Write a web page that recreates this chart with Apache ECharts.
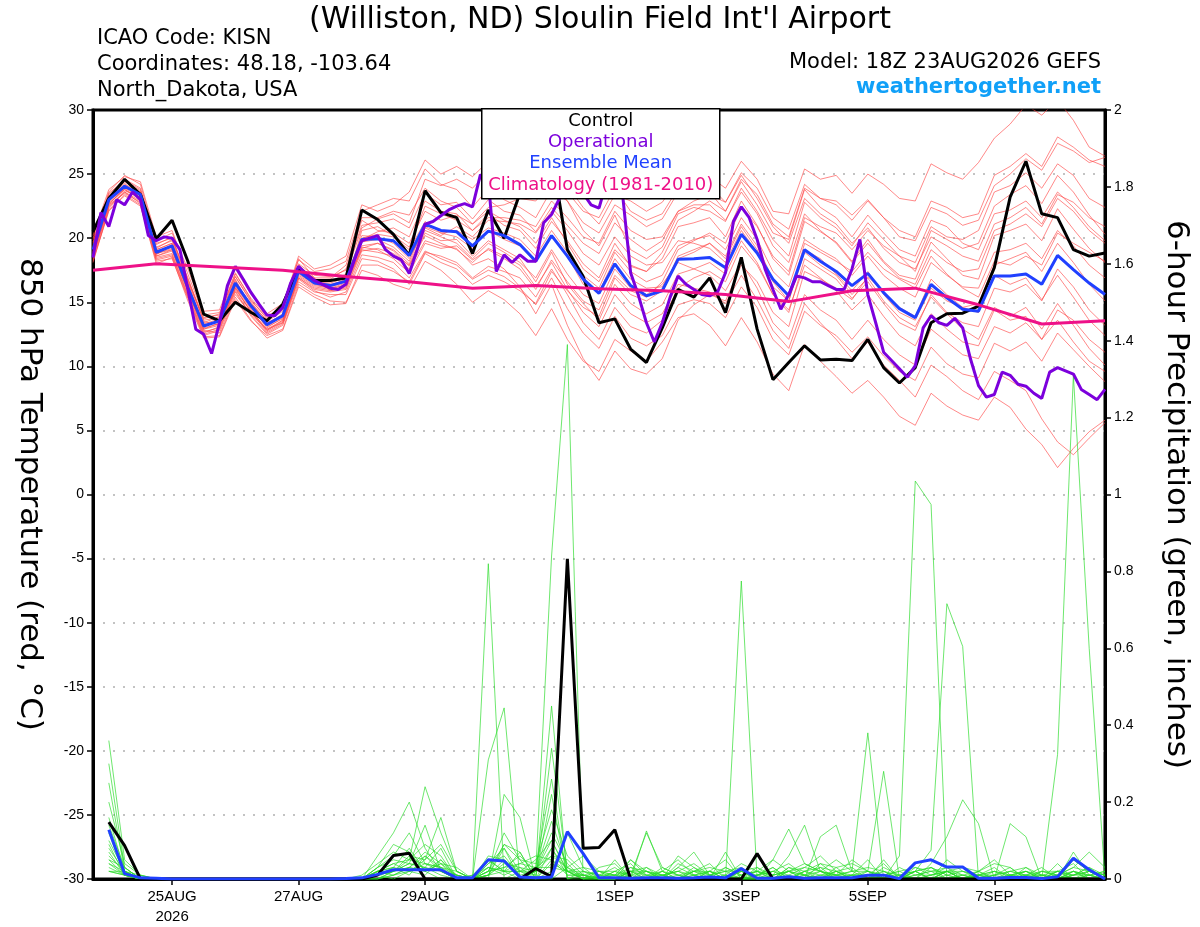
<!DOCTYPE html>
<html>
<head>
<meta charset="utf-8">
<title>KISN GEFS 850 hPa temperature / precipitation</title>
<script src="https://cdn.jsdelivr.net/npm/echarts@6/dist/echarts.min.js"></script>
<style>
  html, body { margin: 0; padding: 0; background: #fff; }
  #chart { width: 1200px; height: 927px; }
</style>
</head>
<body>
<div id="chart"></div>
<script>
'use strict';

// x axis: hours after 18Z 23AUG2026
var tickHours = [30, 78, 126, 198, 246, 294, 342];
var tickLabels = ['25AUG\n2026', '27AUG', '29AUG', '1SEP', '3SEP', '5SEP', '7SEP'];

// 850 hPa temperature, 6-hourly from hour 0
var control = [20.5, 23.1, 24.6, 23.4, 19.95, 21.4, 18.2, 14.07, 13.55, 15.0, 14.2, 13.55, 14.85,
  17.6, 16.7, 16.7, 16.9, 22.2, 21.45, 20.3, 18.65, 23.7, 22.0, 21.6, 18.8, 22.2,
  20.0, 23.5, 25.5, 26.5, 19.1, 17.0, 13.4, 13.7, 11.35, 10.3, 13.0, 16.0, 15.4,
  16.9, 14.2, 18.5, 12.9, 8.96, 10.3, 11.6, 10.5, 10.55, 10.45, 12.1, 9.9, 8.7,
  9.9, 13.4, 14.1, 14.15, 14.7, 17.7, 23.2, 26.0, 21.9, 21.6, 19.1, 18.6, 18.85];

var ensMean = [19.1, 23.0, 24.05, 23.4, 18.9, 19.4, 16.15, 13.15, 13.55, 16.5, 14.7, 13.25, 13.95,
  17.4, 16.5, 16.3, 16.65, 19.9, 19.95, 19.8, 18.65, 21.1, 20.6, 20.5, 19.4, 20.55,
  20.2, 19.5, 18.2, 20.2, 18.6, 16.8, 15.7, 18.0, 16.3, 15.5, 15.9, 18.35, 18.4,
  18.5, 17.7, 20.3, 18.85, 16.8, 15.5, 19.1, 18.2, 17.4, 16.3, 17.25, 15.75, 14.5,
  13.8, 16.4, 15.35, 14.45, 14.3, 17.05, 17.05, 17.2, 16.4, 18.65, 17.55, 16.5, 15.6];

// operational run, 3-hourly from hour 0
var operational = [18.5, 22.0, 20.9, 23.0, 22.6, 23.6, 23.0, 20.2, 19.8, 20.1, 20.0, 19.1, 16.0,
  12.9, 12.5, 11.0, 13.4, 16.3, 17.8, 16.8, 15.75, 14.85, 14.0, 13.95, 14.6, 16.5,
  17.8, 17.2, 16.7, 16.4, 16.1, 16.0, 16.4, 18.2, 19.8, 20.0, 20.2, 19.1, 18.6,
  18.3, 17.25, 19.1, 21.1, 21.3, 21.75, 22.2, 22.5, 22.7, 22.45, 24.95, 24.5, 17.4,
  18.7, 18.1, 18.7, 18.2, 18.2, 21.2, 21.85, 23.1, 24.0, 24.5, 23.5, 22.6, 22.35,
  24.5, 25.0, 23.3, 17.3, 15.5, 13.4, 11.9, 13.4, 15.4, 17.05, 16.4, 16.0, 15.6,
  15.5, 15.8, 17.3, 21.3, 22.45, 21.6, 19.9, 17.6, 16.0, 14.45, 15.6, 17.05, 16.9,
  16.6, 16.6, 16.3, 16.0, 16.0, 17.6, 19.9, 15.6, 13.4, 11.1, 10.45, 9.8, 9.15,
  10.05, 13.0, 13.95, 13.4, 13.2, 13.75, 13.0, 10.55, 8.5, 7.6, 7.8, 9.55, 9.3,
  8.6, 8.45, 7.9, 7.5, 9.55, 9.9, 9.65, 9.4, 8.2, 7.8, 7.4, 8.2];

// climatology, daily from hour 0
var climatology = [17.5, 18.0, 17.75, 17.5, 17.0, 16.6, 16.1, 16.3, 16.05, 15.9, 15.6, 15.05,
  15.9, 16.1, 14.8, 13.3, 13.55];

// ensemble members, 6-hourly from hour 0
var tMem1 = [19.5, 23.4, 24.6, 23.9, 19.5, 20.1, 16.8, 13.8, 14.0, 17.2, 15.3, 13.9, 14.6,
  18.0, 17.1, 17.0, 17.5, 21.0, 21.2, 21.5, 20.8, 23.5, 22.6, 22.8, 21.5, 23.0,
  22.1, 21.8, 20.5, 22.4, 21.0, 19.6, 18.8, 21.2, 19.9, 19.0, 19.8, 22.1, 22.9,
  23.4, 22.8, 25.1, 23.9, 21.6, 20.7, 24.2, 23.1, 22.9, 21.8, 23.0, 21.6, 20.1,
  19.8, 22.4, 21.9, 21.0, 21.4, 24.1, 25.0, 26.2, 25.3, 27.4, 26.8, 25.9, 26.3];
var tMem2 = [18.6, 22.5, 23.6, 22.9, 18.4, 18.7, 15.5, 12.5, 12.9, 15.9, 14.0, 12.6, 13.3,
  16.8, 15.9, 15.4, 15.8, 18.7, 18.5, 18.1, 16.9, 19.0, 18.4, 17.9, 16.8, 17.5,
  17.0, 16.1, 14.8, 16.9, 14.5, 12.6, 11.4, 13.9, 12.2, 11.6, 12.4, 14.8, 15.2,
  14.9, 13.8, 16.2, 14.6, 12.1, 10.9, 14.3, 13.2, 12.4, 11.1, 12.3, 10.8, 9.6,
  8.9, 11.5, 10.2, 9.4, 9.1, 11.8, 11.2, 11.9, 10.4, 12.6, 11.3, 10.0, 8.8];
var tMem3 = [19.9, 23.2, 24.3, 23.0, 19.2, 19.9, 16.9, 13.5, 13.2, 16.1, 14.9, 13.6, 14.5,
  18.4, 16.9, 15.9, 16.2, 20.6, 20.9, 20.2, 19.3, 22.5, 21.9, 21.4, 20.6, 21.9,
  21.0, 20.6, 19.2, 21.3, 19.8, 18.0, 16.9, 19.6, 17.8, 17.4, 18.4, 20.9, 21.2,
  21.6, 20.1, 22.9, 21.0, 18.4, 17.1, 21.3, 20.5, 19.7, 18.2, 19.9, 18.2, 17.1,
  16.8, 19.7, 18.4, 17.1, 16.8, 20.2, 20.6, 21.1, 19.8, 22.3, 20.7, 19.2, 18.1];
var tMem4 = [18.9, 22.8, 23.9, 23.5, 19.1, 19.6, 16.2, 13.4, 13.9, 16.8, 14.6, 13.0, 13.8,
  17.9, 16.8, 16.6, 17.2, 20.8, 21.5, 21.9, 21.2, 24.6, 24.1, 24.6, 23.9, 25.2,
  24.6, 24.9, 23.8, 24.6, 22.9, 21.2, 20.4, 22.6, 21.8, 20.9, 21.5, 23.6, 24.1,
  24.8, 23.9, 26.0, 24.6, 22.1, 21.9, 25.4, 24.6, 24.9, 23.5, 25.0, 24.2, 23.1,
  22.9, 25.8, 25.1, 24.6, 25.9, 27.8, 28.9, 30.4, 29.6, 30.8, 29.2, 27.1, 26.4];
var tMem5 = [18.2, 22.1, 23.4, 22.6, 18.0, 18.5, 15.1, 12.2, 12.3, 15.2, 13.5, 12.4, 12.9,
  16.4, 15.6, 15.1, 15.0, 17.5, 17.1, 16.4, 16.0, 18.2, 17.5, 16.4, 15.0, 15.9,
  15.2, 14.1, 12.4, 14.5, 12.1, 10.4, 9.6, 12.1, 11.2, 10.4, 11.9, 13.8, 14.1,
  13.2, 11.6, 13.8, 11.9, 9.4, 8.1, 11.7, 10.4, 9.2, 7.9, 8.9, 7.6, 6.1,
  5.4, 7.9, 6.9, 6.2, 5.8, 7.6, 6.8, 5.1, 3.9, 2.1, 3.6, 4.9, 5.8];
var tMem6 = [19.6, 23.6, 24.9, 24.2, 19.8, 20.4, 17.6, 14.3, 14.4, 17.6, 15.6, 14.1, 14.9,
  18.3, 17.4, 17.6, 18.2, 22.1, 22.6, 23.1, 22.9, 25.4, 24.2, 23.8, 22.4, 23.9,
  23.0, 22.4, 21.6, 23.8, 22.9, 20.6, 19.4, 21.8, 19.1, 18.4, 19.3, 21.9, 22.4,
  22.1, 21.3, 23.9, 22.1, 19.9, 18.6, 22.8, 21.6, 20.8, 19.4, 21.2, 19.9, 18.6,
  17.4, 20.6, 19.9, 19.2, 19.6, 22.5, 23.4, 24.1, 22.7, 24.9, 23.6, 21.8, 20.3];
var tMem7 = [18.8, 22.7, 23.8, 23.1, 18.6, 19.0, 15.8, 12.9, 13.4, 16.2, 14.2, 12.8, 13.5,
  17.0, 16.2, 16.0, 16.4, 19.4, 19.6, 19.0, 17.8, 20.4, 19.8, 19.9, 18.6, 19.8,
  19.1, 18.4, 16.6, 18.9, 16.4, 14.9, 13.6, 16.4, 14.9, 14.1, 14.8, 17.2, 17.6,
  18.1, 17.2, 19.8, 18.1, 15.6, 14.2, 18.4, 17.6, 16.8, 15.3, 16.6, 14.9, 13.4,
  12.8, 15.6, 14.2, 13.4, 13.1, 16.1, 15.8, 16.4, 15.1, 17.6, 16.2, 14.4, 13.2];
var tMem8 = [19.3, 23.1, 24.2, 23.6, 19.0, 19.3, 16.4, 13.1, 13.6, 16.6, 14.8, 13.3, 14.1,
  17.6, 16.6, 16.5, 16.9, 20.2, 20.1, 19.6, 18.4, 20.8, 20.2, 20.9, 20.1, 21.4,
  21.3, 21.1, 20.4, 22.1, 20.6, 18.8, 17.9, 20.1, 18.6, 17.9, 18.1, 19.8, 19.6,
  19.2, 18.1, 20.6, 18.9, 16.2, 15.1, 19.6, 18.9, 18.2, 17.4, 18.9, 17.6, 16.8,
  16.1, 18.6, 17.2, 16.1, 15.4, 18.2, 17.9, 18.6, 17.9, 20.4, 19.6, 18.9, 18.2];
var tMem9 = [18.5, 22.4, 23.7, 23.2, 18.8, 19.2, 16.0, 12.8, 12.6, 15.6, 14.1, 12.9, 13.6,
  17.2, 16.4, 16.1, 16.5, 19.1, 18.9, 18.6, 17.6, 19.8, 19.4, 19.2, 17.9, 18.4,
  17.6, 16.2, 14.1, 16.4, 13.2, 10.6, 8.9, 11.2, 9.8, 9.4, 10.6, 13.6, 14.8,
  15.6, 15.1, 17.9, 16.6, 14.2, 13.1, 17.4, 16.8, 16.1, 15.2, 17.0, 15.8, 14.6,
  13.9, 16.8, 15.6, 14.6, 14.2, 17.1, 16.4, 16.9, 15.2, 17.1, 15.4, 13.6, 12.4];
var tMem10 = [20.2, 23.8, 24.8, 24.4, 20.1, 20.6, 17.2, 14.0, 14.2, 17.0, 15.1, 13.8, 14.7,
  18.6, 17.6, 17.9, 18.6, 22.6, 22.1, 22.6, 23.6, 26.1, 25.0, 25.6, 24.8, 26.0,
  25.4, 25.9, 26.4, 25.8, 24.1, 22.4, 21.1, 23.4, 22.9, 22.1, 22.8, 24.6, 24.0,
  23.6, 22.1, 24.4, 22.6, 20.4, 19.9, 23.8, 22.4, 21.6, 20.1, 21.8, 20.4, 19.1,
  18.6, 21.4, 20.9, 19.6, 19.1, 21.9, 22.2, 22.9, 21.6, 23.6, 22.4, 20.9, 19.8];
var tMem11 = [18.4, 22.9, 24.1, 23.3, 18.7, 19.5, 16.3, 13.0, 13.3, 16.4, 14.5, 13.1, 13.7,
  17.3, 16.5, 16.2, 16.6, 19.7, 19.9, 19.3, 18.2, 20.9, 20.4, 20.1, 19.2, 20.6,
  19.9, 19.4, 18.1, 20.2, 18.6, 16.4, 15.8, 18.4, 16.8, 16.1, 16.2, 18.4, 18.9,
  19.6, 18.6, 21.1, 19.4, 16.8, 15.6, 19.1, 18.4, 17.2, 15.9, 17.4, 15.6, 14.2,
  13.6, 16.1, 15.1, 14.6, 14.9, 17.9, 18.4, 18.9, 17.4, 19.6, 18.1, 16.4, 15.1];
var tMem12 = [19.0, 22.6, 23.5, 22.8, 18.5, 18.8, 15.6, 12.6, 13.1, 16.0, 14.3, 12.9, 13.4,
  16.9, 16.0, 15.8, 16.0, 19.0, 19.2, 18.8, 17.9, 20.2, 19.6, 19.1, 18.1, 19.2,
  18.6, 17.9, 16.2, 18.1, 16.0, 14.2, 13.1, 15.6, 14.1, 13.4, 14.1, 16.4, 16.1,
  15.8, 14.9, 17.1, 15.2, 12.8, 11.4, 14.9, 13.4, 12.1, 10.6, 11.9, 10.1, 8.9,
  7.6, 10.1, 9.2, 8.1, 7.4, 9.6, 8.9, 8.1, 5.9, 4.1, 3.1, 4.4, 5.6];
var tMem13 = [19.7, 23.3, 24.4, 23.7, 19.3, 19.8, 16.6, 13.6, 13.8, 17.0, 15.0, 13.5, 14.3,
  17.7, 16.7, 16.8, 17.6, 21.4, 20.6, 20.4, 19.6, 22.1, 21.4, 21.8, 21.1, 22.4,
  22.6, 23.1, 22.9, 24.4, 23.6, 22.1, 21.6, 23.9, 22.1, 21.4, 21.9, 23.9, 24.6,
  24.1, 22.8, 24.9, 23.1, 20.9, 19.6, 23.1, 21.9, 21.1, 19.6, 20.8, 19.2, 18.1,
  17.6, 20.1, 19.4, 18.6, 18.2, 21.1, 21.6, 22.4, 21.1, 23.4, 22.8, 21.6, 20.9];
var tMem14 = [18.7, 22.6, 23.9, 23.2, 18.9, 19.3, 15.9, 12.9, 13.2, 16.3, 14.4, 12.8, 13.6,
  17.1, 16.3, 16.1, 16.3, 19.3, 19.1, 18.4, 17.3, 19.6, 19.2, 19.4, 18.3, 19.1,
  18.4, 17.6, 16.0, 18.3, 16.6, 15.1, 14.4, 17.1, 15.9, 15.4, 16.6, 19.1, 19.8,
  20.4, 19.6, 22.4, 20.9, 18.6, 17.4, 21.6, 20.9, 20.4, 19.1, 20.6, 19.4, 18.6,
  18.1, 20.9, 20.1, 19.9, 20.6, 23.6, 24.1, 25.1, 23.9, 25.8, 24.9, 23.1, 22.4];
var tMem15 = [19.4, 23.0, 24.0, 23.4, 18.8, 19.1, 16.0, 13.3, 13.7, 16.5, 14.9, 13.4, 14.0,
  17.5, 16.5, 16.3, 16.8, 20.0, 20.3, 20.1, 19.1, 21.3, 20.4, 20.6, 19.9, 20.8,
  20.4, 19.9, 18.6, 20.6, 18.9, 17.1, 16.1, 18.9, 17.4, 16.6, 17.1, 19.4, 19.9,
  20.2, 19.1, 21.6, 19.9, 17.4, 16.2, 19.9, 19.1, 18.4, 17.1, 18.6, 17.1, 16.1,
  15.4, 18.1, 17.1, 16.2, 16.1, 18.9, 19.1, 19.6, 18.4, 20.6, 19.4, 17.9, 16.9];
var tMem16 = [18.1, 22.3, 23.6, 22.7, 18.3, 18.6, 15.4, 12.4, 12.8, 15.8, 13.9, 12.5, 13.2,
  16.6, 15.8, 15.6, 15.6, 18.4, 18.2, 17.6, 16.4, 18.8, 18.1, 17.6, 16.4, 17.1,
  16.6, 15.9, 14.9, 17.4, 15.9, 14.6, 13.9, 16.9, 15.6, 15.1, 15.9, 18.6, 19.1,
  19.6, 18.4, 20.9, 19.1, 16.6, 15.1, 18.9, 17.9, 17.1, 15.6, 16.9, 15.1, 13.8,
  13.1, 15.4, 14.1, 12.9, 12.1, 14.6, 13.9, 14.6, 12.9, 14.9, 13.2, 11.4, 10.1];
var tMem17 = [20.0, 23.5, 24.5, 23.8, 19.6, 20.0, 16.7, 13.7, 14.1, 17.3, 15.2, 13.7, 14.4,
  17.8, 16.9, 16.9, 17.9, 21.6, 21.6, 22.1, 21.8, 23.9, 22.9, 22.4, 21.1, 22.1,
  21.4, 20.9, 19.6, 21.6, 19.6, 17.6, 16.6, 19.1, 17.9, 17.4, 18.9, 21.4, 22.1,
  22.9, 22.1, 24.6, 23.4, 21.1, 20.1, 23.9, 23.1, 22.6, 21.4, 22.9, 21.6, 20.6,
  20.1, 22.9, 22.4, 21.6, 21.9, 24.9, 25.6, 26.6, 25.6, 27.9, 27.1, 26.1, 25.6];
var tMem18 = [18.3, 22.2, 23.3, 22.5, 18.2, 18.4, 15.3, 12.3, 12.4, 15.4, 13.6, 12.2, 12.8,
  16.2, 15.4, 14.8, 14.9, 17.9, 17.9, 17.4, 16.6, 18.9, 18.6, 18.1, 16.9, 17.8,
  17.4, 16.9, 15.4, 17.6, 15.6, 13.4, 12.1, 14.6, 13.1, 12.6, 13.6, 16.1, 16.9,
  17.4, 16.6, 19.4, 17.9, 15.6, 14.4, 17.9, 16.9, 15.9, 14.4, 15.6, 13.9, 12.4,
  11.6, 14.1, 12.9, 11.9, 11.6, 14.4, 13.6, 13.9, 12.1, 13.6, 11.9, 10.4, 9.6];
var tMem19 = [19.2, 22.9, 24.0, 23.5, 19.1, 19.6, 16.5, 13.2, 13.5, 16.7, 14.7, 13.2, 13.9,
  17.4, 16.6, 16.4, 16.7, 19.9, 20.5, 20.8, 20.1, 22.9, 22.1, 21.9, 20.6, 21.6,
  21.6, 21.4, 20.9, 22.9, 21.6, 20.1, 19.6, 22.1, 20.6, 19.9, 20.1, 22.1, 22.6,
  22.6, 21.4, 23.6, 21.9, 19.4, 18.1, 21.9, 20.6, 19.6, 18.1, 19.6, 18.1, 16.9,
  16.4, 19.1, 18.1, 17.4, 17.6, 20.6, 21.1, 21.9, 20.9, 23.1, 22.1, 20.6, 19.6];
var tMem20 = [18.9, 22.7, 23.8, 23.0, 18.6, 19.1, 15.8, 12.7, 13.0, 16.1, 14.2, 12.7, 13.4,
  16.9, 16.1, 15.9, 16.1, 19.2, 19.6, 19.1, 18.0, 20.6, 20.1, 19.6, 18.4, 19.6,
  18.9, 18.1, 16.9, 19.1, 17.2, 15.6, 14.9, 17.6, 16.1, 15.6, 16.4, 18.1, 17.6,
  17.1, 15.9, 18.1, 16.1, 13.4, 12.1, 15.6, 14.4, 13.6, 12.1, 13.6, 12.1, 10.9,
  10.1, 12.9, 11.9, 10.9, 10.6, 13.1, 12.6, 13.4, 12.1, 14.4, 13.6, 12.1, 11.1];

// 6-hour precipitation (inches), 6-hourly from hour 6
var pControl = [0.148, 0.087, 0, 0, 0, 0, 0, 0, 0, 0, 0, 0, 0, 0, 0, 0,
  0, 0.01, 0.061, 0.067, 0, 0, 0, 0, 0, 0, 0, 0.027, 0.006, 0.833, 0.08, 0.082,
  0.128, 0, 0, 0, 0, 0, 0, 0, 0, 0.066, 0, 0, 0, 0, 0, 0,
  0, 0, 0, 0, 0, 0, 0, 0, 0, 0, 0, 0, 0, 0, 0, 0];
var pMean = [0.128, 0.014, 0.003, 0.002, 0, 0, 0, 0, 0, 0, 0, 0, 0, 0, 0, 0.001,
  0.003, 0.012, 0.024, 0.024, 0.024, 0.024, 0.003, 0.003, 0.05, 0.047, 0.005, 0.003, 0.005, 0.123, 0.066, 0.003,
  0.003, 0.002, 0.003, 0.003, 0.002, 0.003, 0.005, 0.003, 0.027, 0.002, 0.002, 0.006, 0.002, 0.003, 0.003, 0.003,
  0.01, 0.01, 0.001, 0.042, 0.05, 0.031, 0.031, 0.002, 0.002, 0.004, 0.004, 0.001, 0.006, 0.054, 0.024, 0];

var pMem1 = [0.36, 0.05, 0.01, 0, 0, 0, 0, 0, 0, 0, 0, 0, 0, 0, 0, 0,
  0, 0.06, 0.12, 0.20, 0.08, 0.02, 0, 0.01, 0.05, 0.02, 0, 0.02, 0.10, 0.02, 0, 0.01,
  0.03, 0, 0, 0.02, 0.05, 0.01, 0, 0, 0.02, 0, 0, 0.02, 0, 0.01, 0, 0,
  0.02, 0, 0, 0, 0.01, 0.02, 0, 0, 0.01, 0.03, 0, 0, 0.01, 0.05, 0.02, 0];
var pMem2 = [0.30, 0.03, 0, 0, 0, 0, 0, 0, 0, 0, 0, 0, 0, 0, 0, 0,
  0, 0.02, 0.04, 0.05, 0.24, 0.12, 0.02, 0, 0.31, 0.445, 0, 0, 0.02, 0.12, 0.03, 0,
  0, 0.02, 0.03, 0, 0, 0.01, 0.02, 0.05, 0, 0, 0, 0.03, 0.01, 0, 0.02, 0,
  0, 0.05, 0, 0.02, 0.03, 0, 0.01, 0, 0, 0.01, 0.02, 0, 0, 0.02, 0.01, 0];
var pMem3 = [0.25, 0.02, 0, 0, 0, 0, 0, 0, 0, 0, 0, 0, 0, 0, 0, 0,
  0, 0, 0.02, 0.06, 0.05, 0.16, 0.02, 0, 0.82, 0, 0.02, 0, 0, 0.03, 0.01, 0,
  0, 0.05, 0.01, 0, 0, 0.02, 0, 0.01, 0, 0, 0.05, 0.13, 0.04, 0.02, 0, 0,
  0, 0.01, 0, 0, 0, 0.02, 0, 0, 0, 0.01, 0.02, 0, 0, 0.01, 0.03, 0];
var pMem4 = [0.20, 0.04, 0.01, 0, 0, 0, 0, 0, 0, 0, 0, 0, 0, 0, 0, 0,
  0, 0, 0.01, 0.03, 0.07, 0.04, 0, 0, 0.04, 0.08, 0, 0.02, 0.84, 1.39, 0, 0,
  0.01, 0, 0.02, 0.01, 0, 0, 0, 0, 0.01, 0.02, 0, 0, 0.02, 0, 0.01, 0,
  0.01, 0, 0, 0.02, 0, 0, 0, 0.01, 0, 0, 0.03, 0, 0.01, 0, 0, 0];
var pMem5 = [0.16, 0.02, 0, 0, 0, 0, 0, 0, 0, 0, 0, 0, 0, 0, 0, 0,
  0, 0.03, 0.09, 0.07, 0.02, 0, 0, 0, 0, 0.22, 0.16, 0, 0.05, 0.02, 0, 0,
  0, 0.02, 0, 0.01, 0, 0, 0, 0, 0.775, 0, 0, 0.02, 0.01, 0, 0.03, 0,
  0, 0, 0.01, 0, 0, 0.05, 0.02, 0, 0, 0, 0, 0.01, 0, 0.02, 0, 0];
var pMem6 = [0.14, 0.03, 0, 0, 0, 0, 0, 0, 0, 0, 0, 0, 0, 0, 0, 0,
  0, 0, 0.02, 0.05, 0.04, 0.02, 0.01, 0, 0.02, 0.09, 0.07, 0, 0.45, 0, 0.01, 0,
  0, 0.01, 0.12, 0.03, 0.01, 0, 0.02, 0, 0, 0.01, 0, 0, 0.02, 0.04, 0.01, 0,
  0, 0, 0.06, 1.035, 0.974, 0, 0, 0.01, 0, 0, 0.01, 0, 0.02, 0, 0.01, 0];
var pMem7 = [0.12, 0.01, 0, 0, 0, 0, 0, 0, 0, 0, 0, 0, 0, 0, 0, 0,
  0, 0.01, 0, 0.02, 0.03, 0.08, 0, 0, 0.05, 0.02, 0.07, 0, 0.34, 0.02, 0, 0.02,
  0.02, 0, 0, 0, 0.03, 0.07, 0.01, 0, 0, 0, 0, 0, 0, 0.11, 0.14, 0.02,
  0, 0, 0, 0.02, 0.075, 0.716, 0.605, 0, 0, 0.01, 0, 0, 0, 0.01, 0.02, 0];
var pMem8 = [0.10, 0.02, 0, 0, 0, 0, 0, 0, 0, 0, 0, 0, 0, 0, 0, 0,
  0, 0.02, 0.03, 0.01, 0.06, 0.02, 0, 0, 0.01, 0.05, 0, 0.03, 0.26, 0, 0, 0,
  0, 0.03, 0.02, 0, 0, 0.02, 0.01, 0, 0, 0.03, 0, 0, 0.01, 0, 0, 0.01,
  0, 0.01, 0, 0, 0, 0.02, 0, 0.01, 0, 0, 0, 0, 0.324, 1.31, 0.6, 0];
var pMem9 = [0.09, 0.01, 0, 0, 0, 0, 0, 0, 0, 0, 0, 0, 0, 0, 0, 0,
  0, 0.03, 0.05, 0.04, 0.03, 0.01, 0, 0, 0.02, 0.03, 0.06, 0.02, 0.12, 0.04, 0, 0,
  0, 0, 0.125, 0.02, 0, 0.01, 0, 0, 0, 0.01, 0.03, 0, 0, 0.02, 0.05, 0.02,
  0.38, 0, 0, 0, 0.01, 0.03, 0, 0.02, 0, 0.144, 0.11, 0, 0, 0.02, 0, 0];
var pMem10 = [0.08, 0.02, 0, 0, 0, 0, 0, 0, 0, 0, 0, 0, 0, 0, 0, 0,
  0, 0.01, 0.02, 0.03, 0.06, 0.03, 0, 0, 0.01, 0.04, 0.03, 0, 0.08, 0.01, 0.01, 0,
  0, 0.02, 0, 0.03, 0.01, 0, 0.02, 0, 0, 0.02, 0.01, 0.06, 0.14, 0.02, 0.01, 0.05,
  0.02, 0.28, 0, 0, 0, 0.02, 0, 0.01, 0.03, 0, 0, 0.01, 0, 0.07, 0.01, 0];
var pMem11 = [0.07, 0.01, 0, 0, 0, 0, 0, 0, 0, 0, 0, 0, 0, 0, 0, 0,
  0, 0.02, 0.04, 0.02, 0.01, 0.05, 0.01, 0, 0.01, 0.09, 0.05, 0.04, 0.18, 0.06, 0.02, 0,
  0.05, 0, 0, 0.01, 0.02, 0.01, 0, 0.07, 0, 0.01, 0.02, 0.04, 0.01, 0, 0.02, 0.03,
  0, 0.02, 0.01, 0, 0.04, 0.11, 0.206, 0.144, 0, 0.02, 0.01, 0, 0.02, 0, 0.01, 0];
var pMem12 = [0.06, 0.02, 0.01, 0, 0, 0, 0, 0, 0, 0, 0, 0, 0, 0, 0, 0,
  0, 0.03, 0.06, 0.12, 0.04, 0.03, 0.01, 0, 0.06, 0.05, 0.02, 0.02, 0.06, 0.03, 0.06, 0.02,
  0, 0.01, 0.02, 0, 0.04, 0.02, 0.02, 0, 0.02, 0, 0.01, 0.02, 0.04, 0.02, 0, 0.01,
  0.05, 0, 0, 0.03, 0.02, 0, 0.01, 0.02, 0.04, 0.03, 0, 0.02, 0.01, 0.03, 0.07, 0.03];
var pMem13 = [0.05, 0.03, 0, 0, 0, 0, 0, 0, 0, 0, 0, 0, 0, 0, 0, 0,
  0.01, 0.04, 0.07, 0.05, 0.09, 0.06, 0, 0.01, 0.03, 0.02, 0.02, 0.05, 0.10, 0.02, 0, 0.03,
  0.04, 0, 0.03, 0.01, 0.02, 0, 0, 0.03, 0.01, 0.02, 0.05, 0.02, 0.03, 0.06, 0.02, 0,
  0.01, 0.04, 0, 0.02, 0, 0.01, 0, 0, 0.02, 0, 0.01, 0.03, 0, 0.01, 0.02, 0.01];
var pMem14 = [0.05, 0.01, 0, 0, 0, 0, 0, 0, 0, 0, 0, 0, 0, 0, 0, 0,
  0, 0.01, 0.02, 0.04, 0.14, 0.02, 0, 0, 0.03, 0.02, 0.04, 0.03, 0.06, 0.05, 0.01, 0,
  0.02, 0.04, 0, 0, 0.06, 0.03, 0, 0.01, 0, 0, 0.02, 0.01, 0, 0.04, 0.03, 0.04,
  0.02, 0.01, 0.02, 0, 0.03, 0.01, 0, 0.02, 0.05, 0.01, 0, 0, 0.02, 0.04, 0, 0];
var pMem15 = [0.04, 0.02, 0, 0, 0, 0, 0, 0, 0, 0, 0, 0, 0, 0, 0, 0,
  0, 0.02, 0.03, 0.08, 0.02, 0.04, 0.03, 0, 0.01, 0.08, 0.02, 0.01, 0.22, 0, 0.02, 0.01,
  0.01, 0, 0.01, 0.02, 0, 0.02, 0.03, 0.02, 0, 0.01, 0.03, 0, 0.02, 0.01, 0.01, 0.02,
  0.03, 0.02, 0, 0.01, 0.02, 0.02, 0.01, 0, 0.01, 0.02, 0.03, 0.01, 0, 0.05, 0.02, 0];
var pMem16 = [0.04, 0.01, 0, 0, 0, 0, 0, 0, 0, 0, 0, 0, 0, 0, 0, 0,
  0, 0, 0.01, 0.02, 0.05, 0.09, 0.02, 0, 0.02, 0.12, 0.05, 0, 0.04, 0.02, 0.03, 0.02,
  0.01, 0.05, 0.02, 0, 0.01, 0, 0.01, 0.02, 0.03, 0, 0, 0.03, 0.02, 0.03, 0.02, 0,
  0, 0.03, 0.01, 0.02, 0, 0.02, 0.03, 0.02, 0, 0.01, 0.02, 0, 0.04, 0, 0.02, 0.01];
var pMem17 = [0.03, 0.01, 0, 0, 0, 0, 0, 0, 0, 0, 0, 0, 0, 0, 0, 0,
  0, 0.01, 0.02, 0.03, 0.02, 0.05, 0, 0, 0.04, 0.06, 0.01, 0.02, 0.15, 0.03, 0, 0.01,
  0, 0.02, 0.01, 0.01, 0.02, 0.04, 0.01, 0.03, 0.01, 0.02, 0, 0.01, 0.03, 0.02, 0.01, 0.01,
  0.02, 0, 0.03, 0.01, 0.01, 0.02, 0.02, 0.01, 0.02, 0.01, 0, 0.02, 0.01, 0.02, 0.01, 0.02];
var pMem18 = [0.02, 0.01, 0, 0, 0, 0, 0, 0, 0, 0, 0, 0, 0, 0, 0, 0,
  0, 0.02, 0.02, 0.04, 0.03, 0.02, 0.01, 0, 0.02, 0.03, 0.04, 0.06, 0.05, 0.01, 0.01, 0,
  0.02, 0.01, 0, 0.02, 0.01, 0.02, 0.04, 0, 0.02, 0.01, 0.02, 0, 0.01, 0.03, 0, 0.01,
  0.01, 0.02, 0, 0.01, 0.02, 0.03, 0.01, 0, 0.01, 0.02, 0.01, 0.01, 0.02, 0.01, 0.03, 0.01];
var pMem19 = [0.02, 0.02, 0, 0, 0, 0, 0, 0, 0, 0, 0, 0, 0, 0, 0, 0,
  0, 0.01, 0.03, 0.02, 0.04, 0.03, 0.02, 0, 0.01, 0.02, 0.02, 0.03, 0.03, 0.02, 0.02, 0.01,
  0.01, 0.03, 0.01, 0, 0.03, 0.01, 0.02, 0.01, 0.04, 0.02, 0.01, 0.02, 0, 0.01, 0.02, 0.01,
  0.01, 0.01, 0.02, 0.03, 0.01, 0.02, 0, 0.01, 0.01, 0, 0.02, 0.01, 0.01, 0.03, 0.02, 0.01];
var pMem20 = [0.02, 0.01, 0, 0, 0, 0, 0, 0, 0, 0, 0, 0, 0, 0, 0, 0,
  0, 0.02, 0.01, 0.03, 0.02, 0.04, 0.01, 0, 0.03, 0.01, 0.03, 0.02, 0.08, 0.02, 0.01, 0.02,
  0.01, 0.02, 0.02, 0.01, 0, 0.03, 0.01, 0.02, 0.02, 0.03, 0.01, 0.02, 0.01, 0.02, 0.01, 0.02,
  0.02, 0.01, 0.01, 0.02, 0.03, 0.01, 0.02, 0.01, 0.02, 0.01, 0.01, 0.02, 0.02, 0.01, 0.01, 0.02];

var tempMembers = [tMem1, tMem2, tMem3, tMem4, tMem5, tMem6, tMem7, tMem8, tMem9, tMem10,
  tMem11, tMem12, tMem13, tMem14, tMem15, tMem16, tMem17, tMem18, tMem19, tMem20];
var precipMembers = [pMem1, pMem2, pMem3, pMem4, pMem5, pMem6, pMem7, pMem8, pMem9, pMem10,
  pMem11, pMem12, pMem13, pMem14, pMem15, pMem16, pMem17, pMem18, pMem19, pMem20];

var FONT = '"Liberation Sans", Arial, sans-serif';   // tick labels
var WIDE = '"DejaVu Sans", sans-serif';              // titles, header, legend

// [hour, value] pairs
function toPairs(arr, startHour, stepHour) {
  return arr.map(function (v, i) {
    return [startHour + i * stepHour, v];
  });
}

function lineSeries(data, yIndex, color, width, z) {
  return {
    type: 'line',
    yAxisIndex: yIndex,
    data: data,
    symbol: 'none',
    silent: true,
    z: z,
    lineStyle: { color: color, width: width },
    emphasis: { disabled: true }
  };
}

var myChart = echarts.init(document.getElementById('chart'));

var series = [];
tempMembers.forEach(function (m) {
  series.push(lineSeries(toPairs(m, 0, 6), 0, 'rgba(255,70,70,0.8)', 0.8, 2));
});
precipMembers.forEach(function (m) {
  series.push(lineSeries(toPairs(m, 6, 6), 1, 'rgba(40,220,40,0.85)', 0.8, 2));
});
series.push(lineSeries(toPairs(control, 0, 6), 0, '#000000', 3, 4));
series.push(lineSeries(toPairs(pControl, 6, 6), 1, '#000000', 3, 4));
series.push(lineSeries(toPairs(ensMean, 0, 6), 0, '#2040ff', 3, 5));
series.push(lineSeries(toPairs(pMean, 6, 6), 1, '#2040ff', 3, 5));
series.push(lineSeries(toPairs(operational, 0, 3), 0, '#7c00dc', 3, 6));
series.push(lineSeries(toPairs(climatology, 0, 24), 0, '#ee1188', 3, 7));

function legendText(y, text, color) {
  return {
    type: 'text', x: 119, y: y, z: 101,
    style: { text: text, fill: color, font: '18px ' + WIDE, align: 'center', verticalAlign: 'middle' }
  };
}

var option = {
  animation: false,
  backgroundColor: '#ffffff',
  textStyle: { fontFamily: FONT },
  grid: {
    left: 93, right: 93, top: 110, bottom: 45,
    show: true, borderColor: '#000', borderWidth: 3, backgroundColor: 'transparent'
  },
  xAxis: {
    type: 'value',
    min: 0,
    max: 384,
    axisLine: { show: true, onZero: false, lineStyle: { color: '#000', width: 3 } },
    axisTick: { show: true, customValues: tickHours, length: 6, lineStyle: { color: '#000', width: 1.5 } },
    axisLabel: {
      customValues: tickHours,
      color: '#000',
      fontSize: 15,
      lineHeight: 20,
      margin: 8,
      fontFamily: FONT,
      formatter: function (v) {
        var i = tickHours.indexOf(v);
        return i >= 0 ? tickLabels[i] : '';
      }
    },
    splitLine: { show: false }
  },
  yAxis: [
    {
      type: 'value',
      min: -30,
      max: 30,
      interval: 5,
      position: 'left',
      name: '850 hPa Temperature (red, \u00B0C)',
      nameLocation: 'middle',
      nameRotate: -90,
      nameGap: 48,
      nameTextStyle: { fontSize: 31, color: '#000', fontFamily: WIDE },
      axisLine: { show: true, onZero: false, lineStyle: { color: '#000', width: 3 } },
      axisTick: { show: true, length: 6, lineStyle: { color: '#000', width: 1.5 } },
      axisLabel: { color: '#000', fontSize: 14, margin: 9, fontFamily: FONT },
      splitLine: {
        show: true, showMinLine: false, showMaxLine: false,
        lineStyle: { color: '#b0b0b0', width: 1.5, type: [2, 8] }
      }
    },
    {
      type: 'value',
      min: 0,
      max: 2,
      interval: 0.2,
      position: 'right',
      name: '6-hour Precipitation (green, inches)',
      nameLocation: 'middle',
      nameRotate: -90,
      nameGap: 56,
      nameTextStyle: { fontSize: 31, color: '#000', fontFamily: WIDE },
      axisLine: { show: true, onZero: false, lineStyle: { color: '#000', width: 3 } },
      axisTick: { show: true, length: 6, lineStyle: { color: '#000', width: 1.5 } },
      axisLabel: { color: '#000', fontSize: 14, margin: 9, fontFamily: FONT },
      splitLine: { show: false }
    }
  ],
  graphic: [
    {
      type: 'text', left: 'center', top: 5, z: 100,
      style: { text: "(Williston, ND) Sloulin Field Int'l Airport", fill: '#000', font: '30px ' + WIDE }
    },
    {
      type: 'text', left: 97, top: 28, z: 100,
      style: { text: 'ICAO Code: KISN', fill: '#000', font: '21px ' + WIDE }
    },
    {
      type: 'text', left: 97, top: 54, z: 100,
      style: { text: 'Coordinates: 48.18, -103.64', fill: '#000', font: '21px ' + WIDE }
    },
    {
      type: 'text', left: 97, top: 80, z: 100,
      style: { text: 'North_Dakota, USA', fill: '#000', font: '21px ' + WIDE }
    },
    {
      type: 'text', right: 99, top: 52, z: 100,
      style: { text: 'Model: 18Z 23AUG2026 GEFS', fill: '#000', font: '21px ' + WIDE }
    },
    {
      type: 'text', right: 99, top: 77, z: 100,
      style: { text: 'weathertogether.net', fill: '#10a0f8', font: 'bold 21px ' + WIDE }
    },
    {
      type: 'group', left: 481, top: 108, z: 100,
      children: [
        { type: 'rect', z: 100, shape: { x: 0, y: 0, width: 238, height: 90 },
          style: { fill: '#fff', stroke: '#000', lineWidth: 1.5 } },
        legendText(13, 'Control', '#000'),
        legendText(34, 'Operational', '#7c00dc'),
        legendText(55, 'Ensemble Mean', '#2040ff'),
        legendText(77, 'Climatology (1981-2010)', '#ee1188')
      ]
    }
  ],
  series: series
};

myChart.setOption(option);
</script>
</body>
</html>
